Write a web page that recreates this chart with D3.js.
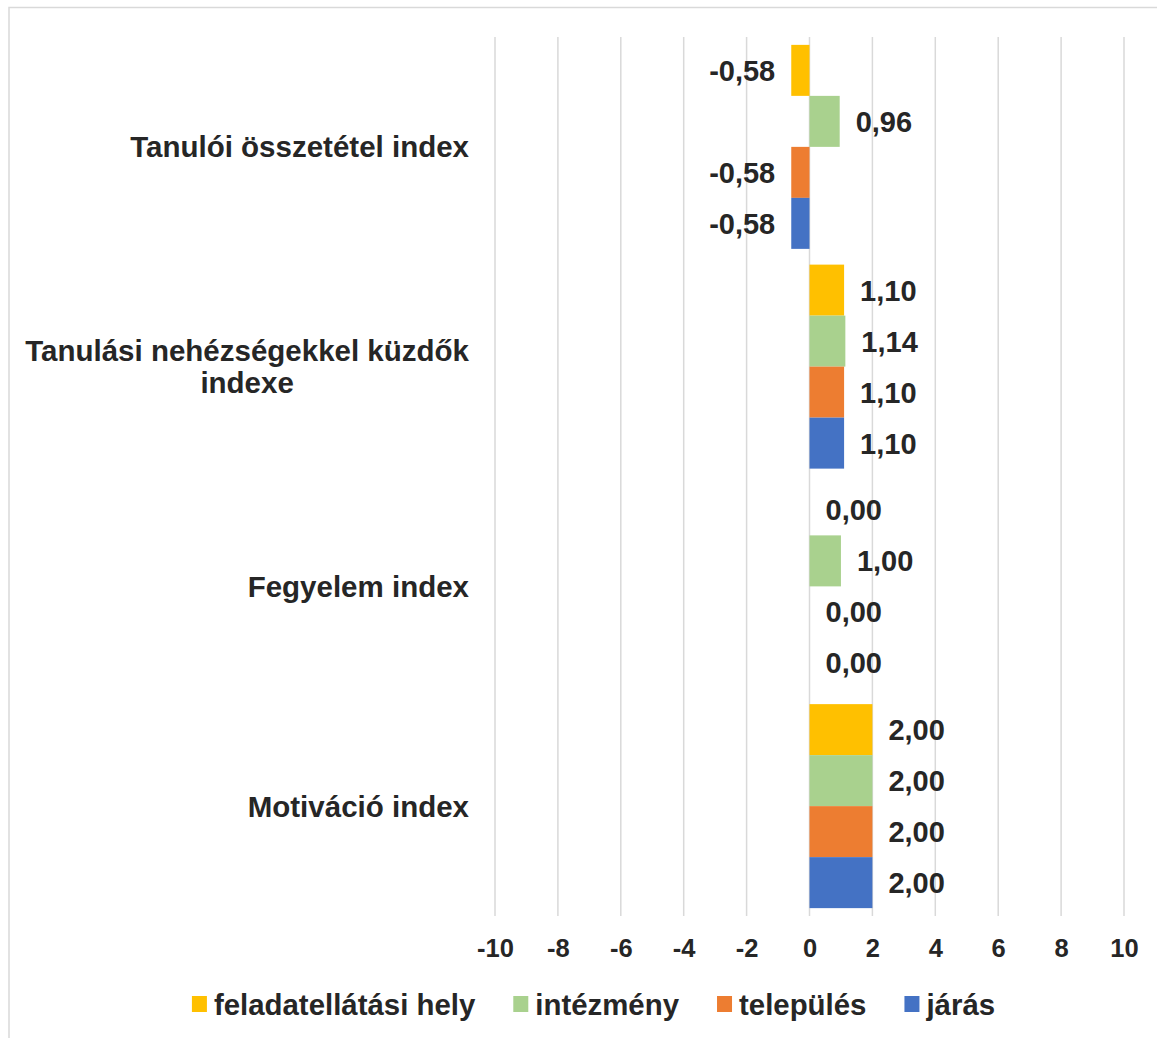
<!DOCTYPE html>
<html>
<head>
<meta charset="utf-8">
<script src="https://cdn.jsdelivr.net/npm/d3@7"></script>
<style>
  html, body { margin: 0; padding: 0; background: #fff; }
  svg { display: block; }
  text { font-family: "Liberation Sans", Arial, sans-serif; font-weight: bold; fill: #262626; }
</style>
</head>
<body>
<script>
const categories = ["Tanulói összetétel index", "Tanulási nehézségekkel küzdők indexe", "Fegyelem index", "Motiváció index"];
const seriesNames = ["feladatellátási hely", "intézmény", "település", "járás"];
const seriesColors = ["#FFC000", "#A9D18E", "#ED7D31", "#4472C4"];
const valFeladat = [-0.58, 1.10, 0.00, 2.00];
const valIntezmeny = [0.96, 1.14, 1.00, 2.00];
const valTelepules = [-0.58, 1.10, 0.00, 2.00];
const valJaras = [-0.58, 1.10, 0.00, 2.00];
const tickValues = [-10, -8, -6, -4, -2, 0, 2, 4, 6, 8, 10];

const seriesValues = [valFeladat, valIntezmeny, valTelepules, valJaras];
const W = 1157, H = 1038;
const svg = d3.select("body").append("svg").attr("width", W).attr("height", H);

// outer chart border
svg.append("rect").attr("x", 9).attr("y", 7.5).attr("width", W + 20).attr("height", H + 20)
  .attr("fill", "none").attr("stroke", "#d9d9d9").attr("stroke-width", 1.5);

const x = d3.scaleLinear().domain([-10, 10]).range([495, 1124]);
const y = d3.scaleBand().domain(categories).range([37, 916]).paddingInner(0.0717).paddingOuter(0.0358);
const ys = d3.scaleBand().domain(seriesNames).range([0, y.bandwidth()]);

// gridlines
svg.append("g").selectAll("line").data(tickValues).join("line")
  .attr("x1", d => x(d)).attr("x2", d => x(d))
  .attr("y1", 37).attr("y2", 916)
  .attr("stroke", "#d9d9d9").attr("stroke-width", 1.5);

// x axis labels
const ax = svg.append("g").attr("transform", "translate(0,916)")
  .call(d3.axisBottom(x).tickValues(tickValues).tickSize(0).tickPadding(23).tickFormat(d3.format("d")));
ax.select(".domain").remove();
ax.selectAll("text").attr("font-size", 25.5).attr("font-family", null).attr("fill", "#262626")
  .style("font-family", "'Liberation Sans', Arial, sans-serif").style("font-weight", "bold")
  .text(d => String(d).replace("−", "-"));

// bars
const fmt = v => d3.format(".2f")(v).replace("−", "-").replace(".", ",");
categories.forEach((c, ci) => {
  const g = svg.append("g").attr("transform", `translate(0,${y(c)})`);
  seriesNames.forEach((s, si) => {
    const v = seriesValues[si][ci];
    g.append("rect")
      .attr("x", x(Math.min(0, v))).attr("width", Math.abs(x(v) - x(0)))
      .attr("y", ys(s)).attr("height", ys.bandwidth())
      .attr("fill", seriesColors[si]);
    g.append("text")
      .attr("x", v < 0 ? x(v) - 16 : x(v) + 16)
      .attr("y", ys(s) + ys.bandwidth() / 2)
      .attr("dy", "0.36em")
      .attr("text-anchor", v < 0 ? "end" : "start")
      .attr("font-size", 29)
      .text(fmt(v));
  });
});

// category labels (wrapped, right-aligned block, centered lines)
const labelRight = 469, maxW = 450, catFont = 29.5, lineH = 32;
categories.forEach(c => {
  const t = svg.append("text").attr("font-size", catFont).attr("text-anchor", "middle");
  const words = c.split(" ");
  const lines = [];
  let cur = [];
  const probe = svg.append("text").attr("font-size", catFont);
  words.forEach(w => {
    const test = cur.concat([w]).join(" ");
    probe.text(test);
    if (probe.node().getComputedTextLength() > maxW && cur.length) {
      lines.push(cur.join(" "));
      cur = [w];
    } else cur.push(w);
  });
  lines.push(cur.join(" "));
  let mw = 0;
  lines.forEach(l => { probe.text(l); mw = Math.max(mw, probe.node().getComputedTextLength()); });
  probe.remove();
  const cx = labelRight - mw / 2;
  const cy = y(c) + y.bandwidth() / 2;
  lines.forEach((l, i) => {
    t.append("tspan").attr("x", cx)
      .attr("y", cy + (i - (lines.length - 1) / 2) * lineH)
      .attr("dy", "0.36em").text(l);
  });
});

// legend
const legFont = 29.4, sw = 15, swGap = 7, itemGap = 38, legY = 1004;
const leg = svg.append("g");
let lx = 0;
seriesNames.forEach((s, i) => {
  const gi = leg.append("g").attr("transform", `translate(${lx},0)`);
  gi.append("rect").attr("x", 0).attr("y", legY - 8).attr("width", sw).attr("height", 16).attr("fill", seriesColors[i]);
  const tt = gi.append("text").attr("x", sw + swGap).attr("y", legY).attr("dy", "0.36em").attr("font-size", legFont).text(s);
  lx += sw + swGap + tt.node().getComputedTextLength() + itemGap;
});
const legW = lx - itemGap;
leg.attr("transform", `translate(${593.5 - legW / 2},0)`);
</script>
</body>
</html>
